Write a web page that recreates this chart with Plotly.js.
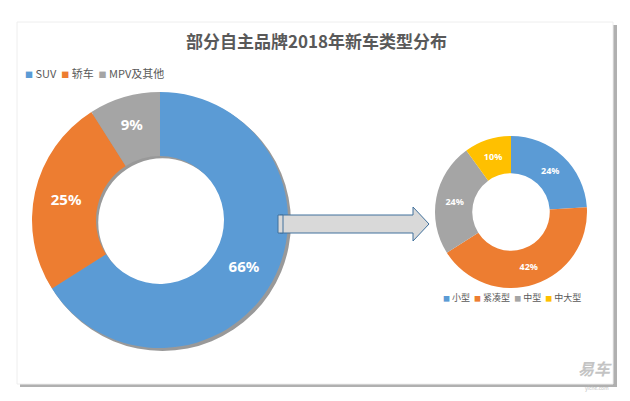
<!DOCTYPE html>
<html>
<head>
<meta charset="utf-8">
<script src="https://cdn.plot.ly/plotly-3.0.1.min.js"></script>
<style>html,body{margin:0;padding:0;background:#fff;}#chart{width:630px;height:401px;}</style>
</head>
<body>
<div id="chart"></div>
<script>
// ---- data ----
const titleText = '部分自主品牌2018年新车类型分布';
const mainCats = ['SUV', '轿车', 'MPV及其他'];
const mainVals = [66, 25, 9];
const mainColors = ['#5B9BD5', '#ED7D31', '#A5A5A5'];
const subCats = ['小型', '紧凑型', '中型', '中大型'];
const subVals = [24, 42, 24, 10];
const subColors = ['#5B9BD5', '#ED7D31', '#A5A5A5', '#FFC000'];

const W = 630, H = 401;
const px = x => x / W;
const py = y => 1 - y / H;
const FONT = '"Noto Sans CJK SC", "Noto Sans", sans-serif';

function legendText(cats, colors, sq) {
  return cats.map((c, i) => `<span style="color:${colors[i]};font-size:${sq}px">■</span> ${c}`).join('  ');
}

const shadow = {
  type: 'pie', values: [1], marker: {colors: ['rgba(0,0,0,0.4)']},
  hole: 0.5, sort: false, textinfo: 'none', hoverinfo: 'skip', showlegend: false,
  domain: {x: [px(34), px(291)], y: [py(351), py(94)]}
};
const mainPie = {
  type: 'pie', values: mainVals, labels: mainCats, marker: {colors: mainColors, line: {width: 0}},
  hole: 0.5, sort: false, direction: 'clockwise', rotation: 0,
  texttemplate: '%{value}%', textposition: 'inside', insidetextorientation: 'horizontal',
  textfont: {color: '#FFFFFF', size: 15, family: '"Noto Sans", "DejaVu Sans", sans-serif', weight: 'bold'},
  showlegend: false, hoverinfo: 'label+percent',
  domain: {x: [px(32), px(288)], y: [py(348), py(92)]}
};
const subPie = {
  type: 'pie', values: subVals, labels: subCats, marker: {colors: subColors, line: {width: 0}},
  hole: 0.51, sort: false, direction: 'clockwise', rotation: 0,
  texttemplate: '%{value}%', textposition: 'inside', insidetextorientation: 'horizontal',
  textfont: {color: '#FFFFFF', size: 9, family: '"Noto Sans", "DejaVu Sans", sans-serif', weight: 'bold'},
  showlegend: false, hoverinfo: 'label+percent',
  domain: {x: [px(435), px(587)], y: [py(288), py(136)]}
};

const arrowPath = (() => {
  const pts = [[280,215],[413,215],[413,207],[429,224],[413,241],[413,233],[280,233]];
  return 'M ' + pts.map(p => px(p[0]) + ',' + py(p[1])).join(' L ') + ' Z';
})();

const layout = {
  width: W, height: H,
  margin: {l: 0, r: 0, t: 0, b: 0},
  paper_bgcolor: '#FFFFFF', plot_bgcolor: '#FFFFFF',
  showlegend: false,
  font: {family: FONT, color: '#595959'},
  shapes: [
    {type: 'rect', xref: 'paper', yref: 'paper', x0: px(20), x1: px(617), y0: py(387), y1: py(25),
     fillcolor: '#B0B0B0', line: {width: 0}, layer: 'below'},
    {type: 'rect', xref: 'paper', yref: 'paper', x0: px(17), x1: px(613), y0: py(384), y1: py(22),
     fillcolor: '#FFFFFF', line: {color: '#EEEEEE', width: 1}, layer: 'below'},
    {type: 'path', xref: 'paper', yref: 'paper', path: arrowPath,
     fillcolor: '#D9D9D9', line: {color: '#41719C', width: 1}},
    {type: 'rect', xref: 'paper', yref: 'paper', x0: px(278), x1: px(283), y0: py(233), y1: py(215),
     fillcolor: '#D9D9D9', line: {color: '#41719C', width: 1}}
  ],
  annotations: [
    {text: '<b>' + titleText + '</b>', xref: 'paper', yref: 'paper', x: px(316), y: py(40),
     xanchor: 'center', yanchor: 'middle', showarrow: false,
     font: {size: 17, color: '#595959', family: FONT}},
    {text: legendText(mainCats, mainColors, 8), xref: 'paper', yref: 'paper', x: px(23), y: py(73),
     xanchor: 'left', yanchor: 'middle', showarrow: false,
     font: {size: 11, color: '#595959', family: FONT}},
    {text: legendText(subCats, subColors, 7), xref: 'paper', yref: 'paper', x: px(512), y: py(297),
     xanchor: 'center', yanchor: 'middle', showarrow: false,
     font: {size: 9, color: '#595959', family: FONT}},
    {text: '<b><i>易车</i></b>', xref: 'paper', yref: 'paper', x: px(595), y: py(368),
     xanchor: 'center', yanchor: 'middle', showarrow: false,
     font: {size: 16, color: '#C4C4C4', family: FONT}},
    {text: 'yiche.com', xref: 'paper', yref: 'paper', x: px(597), y: py(388),
     xanchor: 'center', yanchor: 'middle', showarrow: false,
     font: {size: 5, color: '#C4C4C4', family: FONT}}
  ]
};

Plotly.newPlot('chart', [shadow, mainPie, subPie], layout, {displayModeBar: false, staticPlot: true});
</script>
</body>
</html>
